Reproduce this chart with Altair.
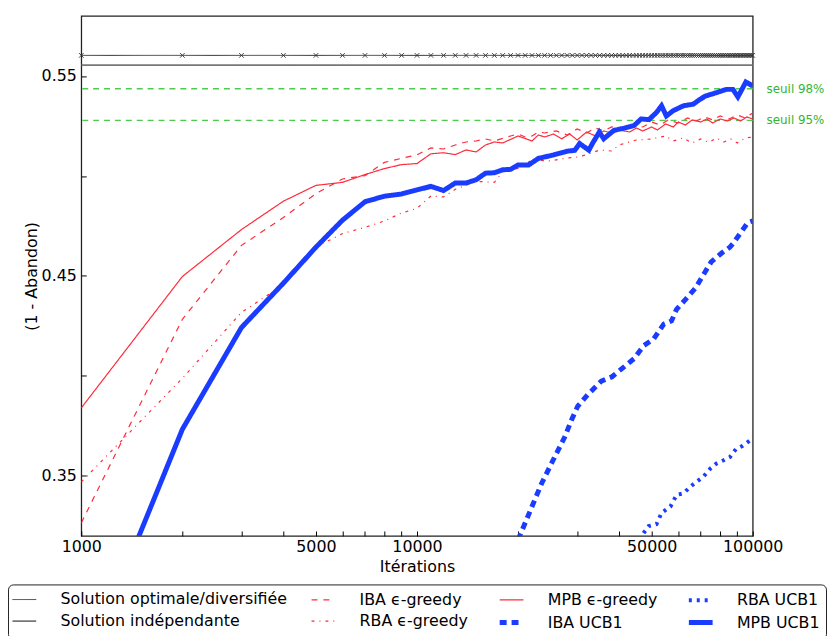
import altair as alt
import pandas as pd

S_OPT = "Solution optimale/diversifiée"
S_IND = "Solution indépendante"
IBA_E = "IBA ϵ-greedy"
RBA_E = "RBA ϵ-greedy"
MPB_E = "MPB ϵ-greedy"
IBA_U = "IBA UCB1"
RBA_U = "RBA UCB1"
MPB_U = "MPB UCB1"

# constant reference solutions
opt_x = [1000, 100000]
opt_y = [0.5603, 0.5603]
ind_x = [1000, 100000]
ind_y = [0.5554, 0.5554]
marker_x = list(range(1000, 100001, 1000))

# thresholds
thr_labels = ["seuil 98%", "seuil 95%"]
thr_values = [0.5436, 0.5278]

mpb_e_x = [1000, 2000, 3000, 4000, 5000, 6000, 7000, 8000, 9000, 10000, 11000, 12000, 13000, 14000,
           15000, 16000, 17000, 18000, 20000, 22000, 23000, 24000, 25500, 27000, 28500, 30000, 32000,
           34000, 36000, 38000, 40000, 43000, 45000, 47000, 50000, 52000, 55000, 58000, 60000, 63000,
           66000, 70000, 73000, 76000, 80000, 84000, 88000, 92000, 96000, 100000]
mpb_e_y = [0.384, 0.4497, 0.4732, 0.4874, 0.4953, 0.4968, 0.5007, 0.5037, 0.5057, 0.5062, 0.5111, 0.5116,
           0.5107, 0.513, 0.512, 0.5155, 0.517, 0.5165, 0.520, 0.5175, 0.5205, 0.5195, 0.521, 0.5186,
           0.521, 0.518, 0.522, 0.520, 0.5225, 0.5215, 0.523, 0.522, 0.524, 0.5225, 0.5245, 0.523, 0.526,
           0.5245, 0.527, 0.5255, 0.528, 0.527, 0.5285, 0.5265, 0.5285, 0.5275, 0.529, 0.5275, 0.5295, 0.5285]

iba_e_x = [1000, 2000, 3000, 4000, 5000, 6000, 7000, 8000, 9000, 10000, 11000, 12000, 13000, 14000,
           15000, 16000, 17000, 18000, 19000, 20000, 21000, 22000, 23000, 24000, 26000, 28000, 30000,
           32000, 34000, 36000, 38000, 41000, 44000, 47000, 50000, 53000, 56000, 60000, 64000, 68000,
           72000, 76000, 80000, 85000, 90000, 95000, 100000]
iba_e_y = [0.3265, 0.4283, 0.4653, 0.4792, 0.4912, 0.4985, 0.5002, 0.5068, 0.5088, 0.5106, 0.514, 0.5135,
           0.5155, 0.517, 0.5175, 0.5185, 0.5175, 0.5188, 0.520, 0.521, 0.5195, 0.520, 0.522, 0.5215,
           0.5225, 0.5205, 0.5235, 0.5215, 0.524, 0.5225, 0.5245, 0.5235, 0.5255, 0.5245, 0.527, 0.5255,
           0.528, 0.5265, 0.529, 0.5275, 0.5295, 0.528, 0.530, 0.5285, 0.5305, 0.529, 0.5315]

rba_e_x = [1000, 2000, 3000, 4000, 5000, 6000, 7000, 8000, 9000, 10000, 11000, 12000, 13000, 15000,
           17000, 18000, 20000, 22000, 25000, 27500, 30000, 32000, 35000, 38000, 40000, 45000, 50000,
           55000, 58000, 62000, 66000, 70000, 74000, 78000, 82000, 86000, 90000, 95000, 100000]
rba_e_y = [0.347, 0.3988, 0.4318, 0.4456, 0.4644, 0.4712, 0.4743, 0.4775, 0.4815, 0.4838, 0.490, 0.4895,
           0.4933, 0.4973, 0.4968, 0.5022, 0.5038, 0.508, 0.5075, 0.5088, 0.5095, 0.5106, 0.513, 0.5125,
           0.5155, 0.518, 0.5185, 0.520, 0.5175, 0.519, 0.5165, 0.5185, 0.5168, 0.519, 0.517, 0.5185,
           0.5165, 0.519, 0.5195]

mpb_u_x = [1000, 2000, 3000, 4000, 5000, 6000, 7000, 8000, 9000, 10000, 11000, 12000, 13000, 14000,
           15000, 16000, 17000, 18000, 19000, 20000, 21500, 23000, 25500, 28000, 29500, 30500, 32500,
           33300, 34900, 36000, 38600, 41400, 44300, 46500, 49100, 51700, 53500, 55300, 57900, 62200,
           66500, 69600, 72400, 77800, 83400, 87300, 90300, 95400, 100000]
mpb_u_y = [0.249, 0.3733, 0.4242, 0.4464, 0.4644, 0.4779, 0.4871, 0.4899, 0.4910, 0.4930, 0.4948, 0.4927,
           0.4965, 0.4965, 0.4981, 0.5014, 0.5016, 0.5031, 0.5033, 0.5055, 0.5055, 0.5088, 0.5105, 0.5124,
           0.5128, 0.5162, 0.5129, 0.5162, 0.5219, 0.5186, 0.5228, 0.5239, 0.5252, 0.5285, 0.5282, 0.5318,
           0.5351, 0.530, 0.5326, 0.5351, 0.5359, 0.5383, 0.540, 0.5416, 0.5433, 0.5433, 0.5395, 0.547, 0.545]

iba_u_x = [20000, 21400, 23500, 25400, 27500, 28900, 30100, 32200, 33700, 35400, 38100, 41900, 44300,
           47400, 50700, 54300, 57300, 59300, 63000, 67500, 70300, 75200, 80500, 85500, 87300, 91500,
           96700, 100000]
iba_u_y = [0.318, 0.3298, 0.3462, 0.3577, 0.3692, 0.3782, 0.3848, 0.3905, 0.3938, 0.3974, 0.3996, 0.4053,
           0.4086, 0.4152, 0.4185, 0.4259, 0.4275, 0.4333, 0.4382, 0.4439, 0.4489, 0.457, 0.4612, 0.4644,
           0.4661, 0.471, 0.4767, 0.4775]

rba_u_x = [46000, 47400, 49000, 51700, 53500, 56900, 59300, 62200, 65200, 67900, 71200, 74700, 77800,
           81600, 85500, 89100, 93400, 98000, 100000]
rba_u_y = [0.318, 0.3216, 0.3249, 0.3259, 0.3315, 0.3347, 0.3405, 0.3413, 0.3446, 0.347, 0.3495, 0.3536,
           0.3561, 0.3577, 0.3594, 0.3634, 0.3651, 0.3676, 0.3685]

legend_order = [S_OPT, IBA_E, MPB_E, RBA_U, S_IND, RBA_E, IBA_U, MPB_U]
RED = "#ff2a3a"
BLUE = "#1a3cff"
colors = ["#333333", RED, RED, BLUE, "#777777", RED, BLUE, BLUE]
dashes = [[1, 0], [6, 6], [1, 0], [3, 5], [1, 0], [3, 5, 1, 5], [7, 5], [1, 0]]
widths = [1, 1.2, 1.2, 4, 1.8, 1.2, 5, 5]

rows = []
for name, xs, ys in [(S_OPT, opt_x, opt_y), (S_IND, ind_x, ind_y), (MPB_E, mpb_e_x, mpb_e_y),
                     (IBA_E, iba_e_x, iba_e_y), (RBA_E, rba_e_x, rba_e_y), (RBA_U, rba_u_x, rba_u_y),
                     (IBA_U, iba_u_x, iba_u_y), (MPB_U, mpb_u_x, mpb_u_y)]:
    for xv, yv in zip(xs, ys):
        rows.append({"series": name, "it": xv, "val": yv})
df = pd.DataFrame(rows)
df_mark = pd.DataFrame({"it": marker_x, "val": [opt_y[0]] * len(marker_x)})
df_thr = pd.DataFrame({"label": thr_labels, "val": thr_values, "it": [100000, 100000]})

x_ticks = [1000, 2000, 3000, 4000, 5000, 6000, 7000, 8000, 9000, 10000, 20000, 30000, 40000, 50000,
           60000, 70000, 80000, 90000, 100000]
x_labeled = [1000, 5000, 10000, 50000, 100000]
y_ticks = [0.35, 0.40, 0.45, 0.50, 0.55]

FONT = "DejaVu Sans"
xscale = alt.Scale(type="log", domain=[1000, 100000], nice=False)
yscale = alt.Scale(domain=[0.32, 0.58], nice=False, zero=False)

xaxis = alt.Axis(values=x_ticks, title="Itérations", grid=False, domain=False, offset=-5, tickSize=5,
                 tickColor="black", labelFlush=False, labelOverlap=False, labelPadding=3, titlePadding=4,
                 labelFont=FONT, labelFontSize=16, labelColor="black", titleFont=FONT, titleFontSize=16,
                 titleFontWeight="normal", titleColor="black",
                 labelExpr="indexof(" + str(x_labeled) + ", datum.value) >= 0 ? format(datum.value, 'd') : ''")
yaxis = alt.Axis(values=y_ticks, title="(1 - Abandon)", grid=False, domain=False, offset=-5, tickSize=5,
                 tickColor="black", labelOverlap=False, labelPadding=5, titlePadding=2,
                 labelFont=FONT, labelFontSize=16, labelColor="black", titleFont=FONT, titleFontSize=16,
                 titleFontWeight="normal", titleColor="black",
                 labelExpr="round(datum.value*100) % 10 == 5 ? format(datum.value, '.2f') : ''")

leg = alt.Legend(title=None, orient="none", legendX=-74, legendY=574, columns=4, direction="horizontal",
                 strokeColor="#222222", cornerRadius=5, padding=6, fillColor="white",
                 labelFont=FONT, labelFontSize=16, labelColor="black", labelLimit=400,
                 symbolType="M-1.5,0H1.5", symbolSize=256, columnPadding=21, rowPadding=4, labelOffset=26)

thr_rules = alt.Chart(df_thr).mark_rule(color="#4ccc4c", strokeDash=[6, 5], strokeWidth=1.5).encode(
    y=alt.Y("val:Q", scale=yscale, axis=yaxis))
thr_text = alt.Chart(df_thr).mark_text(align="left", baseline="middle", dx=14, fontSize=12, font=FONT,
                                       color="#33b533").encode(
    x=alt.X("it:Q", scale=xscale, axis=xaxis), y=alt.Y("val:Q", scale=yscale), text="label:N")

lines = alt.Chart(df).mark_line(clip=True).encode(
    x=alt.X("it:Q", scale=xscale, axis=xaxis),
    y=alt.Y("val:Q", scale=yscale, axis=yaxis),
    color=alt.Color("series:N", scale=alt.Scale(domain=legend_order, range=colors), legend=leg),
    strokeDash=alt.StrokeDash("series:N", scale=alt.Scale(domain=legend_order, range=dashes), legend=leg),
    strokeWidth=alt.StrokeWidth("series:N", scale=alt.Scale(type="ordinal", domain=legend_order, range=widths),
                                legend=leg),
    detail="series:N",
    order="it:Q",
)

markers = alt.Chart(df_mark).mark_point(shape="M-1,-1L1,1M-1,1L1,-1", size=22, color="#333333",
                                        strokeWidth=0.9, filled=False, opacity=1).encode(
    x=alt.X("it:Q", scale=xscale), y=alt.Y("val:Q", scale=yscale))

chart = alt.layer(thr_rules, thr_text, lines, markers).properties(
    width=678, height=525,
    autosize=alt.AutoSizeParams(type="none"),
    padding={"left": 74, "top": 5, "right": 75, "bottom": 98},
    background="white",
).configure_view(stroke="#222222", strokeWidth=1.3)

chart.save("out.html", embed_options={"renderer": "svg", "actions": False})
